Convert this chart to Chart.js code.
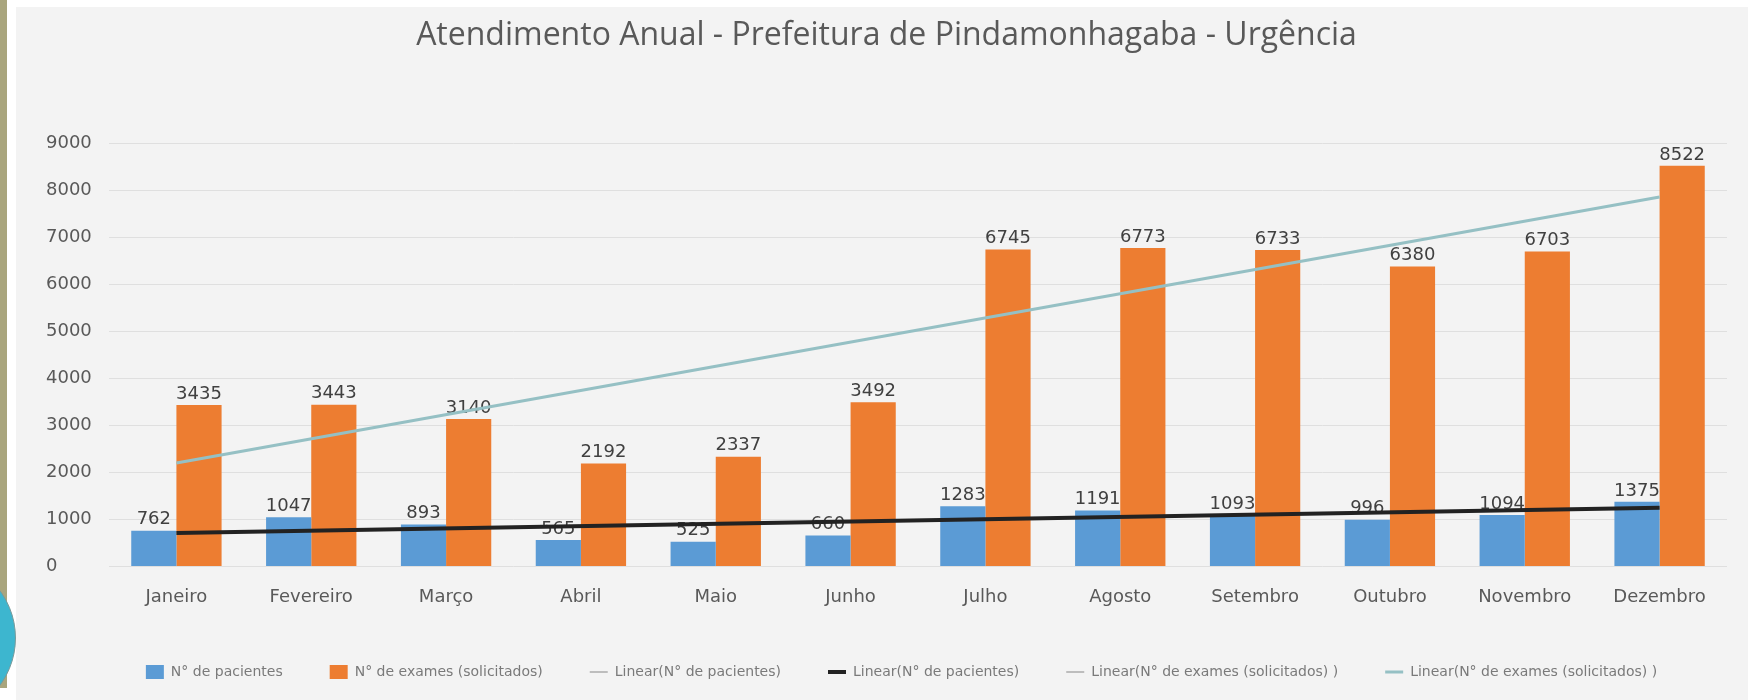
<!DOCTYPE html>
<html lang="pt-BR">
<head>
<meta charset="utf-8">
<title>Atendimento Anual - Urgência</title>
<script src="https://cdn.jsdelivr.net/npm/chart.js@4.4.1/dist/chart.umd.min.js"></script>
<style>
  html, body { margin: 0; padding: 0; background: #fff; }
  body { width: 1757px; height: 700px; position: relative; overflow: hidden; }
  .strip { position: absolute; left: 0; top: 0; width: 7px; height: 688px; background: #a9a57d; }
  .dot { position: absolute; left: -144px; top: 558px; width: 160px; height: 160px; border-radius: 50%;
         background: #3db6cf; border: 1px solid #7a9a9a; box-sizing: border-box; }
  .panel { position: absolute; left: 16px; top: 7px; width: 1732px; height: 693px; background: #f3f3f3; }
  canvas { display: block; }
</style>
</head>
<body>
<div class="strip"></div>
<div class="dot"></div>
<div class="panel"><canvas id="chart" width="1732" height="693"></canvas></div>

<script>
// Atendimento anual - urgência
const meses = ['Janeiro', 'Fevereiro', 'Março', 'Abril', 'Maio', 'Junho',
  'Julho', 'Agosto', 'Setembro', 'Outubro', 'Novembro', 'Dezembro'];
const pacientes = [762, 1047, 893, 565, 525, 660, 1283, 1191, 1093, 996, 1094, 1375];
const exames = [3435, 3443, 3140, 2192, 2337, 3492, 6745, 6773, 6733, 6380, 6703, 8522];

// tendência linear: só as pontas (janeiro e dezembro)
const tendPacientes = [710, null, null, null, null, null, null, null, null, null, null, 1250];
const tendExames = [2200, null, null, null, null, null, null, null, null, null, null, 7860];

const yTicks = [0, 1000, 2000, 3000, 4000, 5000, 6000, 7000, 8000, 9000];

const colors = {
  blue: '#5b9bd5',
  orange: '#ed7d31',
  trendDark: '#222222',
  trendTeal: '#95c0c4',
  dotted: '#bdbdbd',
  text: '#595959',
  legend: '#7a7a7a',
  grid: '#dfdfdf',
};

const font = '"DejaVu Sans", sans-serif';

// rótulos de valor acima das barras
const barLabels = {
  id: 'barLabels',
  afterDatasetDraw(chart, args) {
    const ds = chart.data.datasets[args.index];
    if (ds.type === 'line') return;
    const ctx = chart.ctx;
    ctx.save();
    ctx.font = '18px ' + font;
    ctx.fillStyle = '#404040';
    ctx.textAlign = 'center';
    ctx.textBaseline = 'bottom';
    args.meta.data.forEach((bar, i) => {
      ctx.fillText(ds.data[i], bar.x, bar.y - 2);
    });
    ctx.restore();
  }
};

// legenda um pouco deslocada para a direita, como no original
const legendShift = {
  id: 'legendShift',
  afterLayout(chart) {
    chart.legend.left += 15;
    chart.legend.right += 15;
  }
};

new Chart(document.getElementById('chart'), {
  type: 'bar',
  data: {
    labels: meses,
    datasets: [
      {
        label: 'N° de pacientes',
        data: pacientes,
        backgroundColor: colors.blue,
        borderWidth: 0,
        order: 1,
        pointStyle: 'rect',
      },
      {
        label: 'N° de exames (solicitados)',
        data: exames,
        backgroundColor: colors.orange,
        borderWidth: 0,
        order: 1,
        pointStyle: 'rect',
      },
      {
        type: 'line',
        label: 'Linear(N° de pacientes)',
        data: [],
        borderColor: colors.dotted,
        borderWidth: 2,
        borderDash: [2, 3],
        pointRadius: 0,
        pointStyle: 'line',
        order: 0,
      },
      {
        type: 'line',
        label: 'Linear(N° de pacientes)',
        data: tendPacientes,
        borderColor: colors.trendDark,
        backgroundColor: colors.trendDark,
        borderWidth: 4,
        spanGaps: true,
        pointRadius: 0,
        pointStyle: 'line',
        order: 0,
      },
      {
        type: 'line',
        label: 'Linear(N° de exames (solicitados) )',
        data: [],
        borderColor: colors.dotted,
        borderWidth: 2,
        borderDash: [2, 3],
        pointRadius: 0,
        pointStyle: 'line',
        order: 0,
      },
      {
        type: 'line',
        label: 'Linear(N° de exames (solicitados) )',
        data: tendExames,
        borderColor: colors.trendTeal,
        backgroundColor: colors.trendTeal,
        borderWidth: 3,
        spanGaps: true,
        pointRadius: 0,
        pointStyle: 'line',
        order: 0,
      },
    ]
  },
  options: {
    responsive: false,
    animation: false,
    layout: {
      padding: { left: 30, right: 21, top: 0, bottom: 11 },
    },
    datasets: {
      bar: {
        barPercentage: 1,
        categoryPercentage: 0.67,
      }
    },
    plugins: {
      title: {
        display: true,
        text: 'Atendimento Anual - Prefeitura de Pindamonhagaba - Urgência',
        color: colors.text,
        font: { family: '"Open Sans", sans-serif', size: 32, weight: 'normal' },
        padding: { top: 10, bottom: 88 },
      },
      legend: {
        position: 'bottom',
        labels: {
          usePointStyle: true,
          pointStyleWidth: 18,
          boxHeight: 14,
          padding: 47,
          color: colors.legend,
          font: { family: font, size: 14 },
          sort: (a, b) => a.datasetIndex - b.datasetIndex,
        }
      },
      tooltip: { enabled: false },
    },
    scales: {
      x: {
        grid: { display: false },
        border: { display: false },
        ticks: {
          color: colors.text,
          padding: 12,
          font: { family: font, size: 18 },
        },
        afterFit: (scale) => { scale.height = 51.5; },
      },
      y: {
        min: 0,
        max: 9000,
        afterBuildTicks: (scale) => { scale.ticks = yTicks.map(v => ({ value: v })); },
        grid: { color: colors.grid, lineWidth: 1, drawTicks: false },
        border: { display: false },
        ticks: {
          color: colors.text,
          crossAlign: 'far',
          padding: 8,
          font: { family: font, size: 18 },
          callback: (value) => String(value),
        },
        afterFit: (scale) => { scale.width = 63; },
      }
    }
  },
  plugins: [barLabels, legendShift]
});
</script>
</body>
</html>
